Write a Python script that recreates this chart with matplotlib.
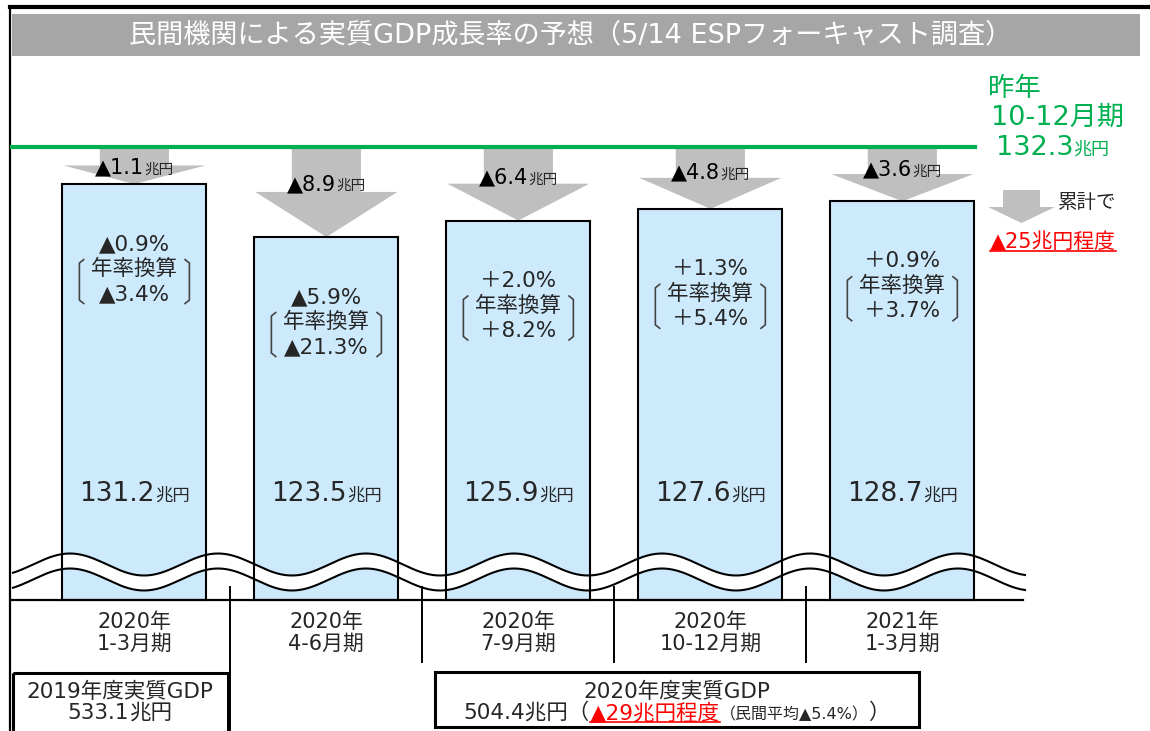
import numpy as np
import matplotlib.pyplot as plt
from matplotlib.patches import Rectangle, Polygon
from matplotlib.path import Path
from matplotlib.patches import PathPatch
from matplotlib.transforms import Affine2D, blended_transform_factory, IdentityTransform

plt.rcParams['font.family'] = ['DejaVu Sans', 'Noto Sans CJK JP']

# データ（兆円）
period_year = ['2020年', '2020年', '2020年', '2020年', '2021年']
period_q = ['1-3月期', '4-6月期', '7-9月期', '10-12月期', '1-3月期']
gdp = [131.2, 123.5, 125.9, 127.6, 128.7]
drop_lbl = ['▲1.1', '▲8.9', '▲6.4', '▲4.8', '▲3.6']
qoq = ['▲0.9%', '▲5.9%', '＋2.0%', '＋1.3%', '＋0.9%']
annual = ['▲3.4%', '▲21.3%', '＋8.2%', '＋5.4%', '＋3.7%']
prev_q = 132.3
prev_lbl = ['昨年', '10-12月期']
fy_lbl = ['2019年度実質GDP', '2020年度実質GDP']
fy_gdp = ['533.1', '504.4']
fy_drop = '▲29兆円程度'
fy_private = '（民間平均▲5.4%）'
cum_drop = '▲25兆円程度'
title = '民間機関による実質GDP成長率の予想（5/14 ESPフォーキャスト調査）'

GREEN = '#00b050'
RED = '#ff0000'
GRAY = '#bfbfbf'
BLUE = '#cdeafd'
TXT = '#262626'

W, H = 1150, 731
fig = plt.figure(figsize=(W / 100, H / 100), dpi=100)
ax = fig.add_axes([0, 0, 1, 1])
ax.set_xlim(-0.70, 5.29)
ax.set_ylim(51.7, 157.95)
ax.axis('off')

# ピクセル座標（左上が原点）
pix = Affine2D().scale(1 / W, -1 / H).translate(0, 1) + fig.transFigure
pxy = blended_transform_factory(pix, ax.transData)
rend = fig.canvas.get_renderer()


def to_px(x, y):
    return pix.inverted().transform(ax.transData.transform((x, y)))


def parts(x, y, items, ha='center', underline=()):
    objs = []
    for s, size, color in items:
        objs.append(ax.text(x, y, s, fontsize=size, color=color, transform=pix,
                            ha='left', va='baseline', clip_on=False, zorder=6))
    widths = [t.get_window_extent(rend).width for t in objs]
    off = -sum(widths) / 2 if ha == 'center' else 0
    x0, base = pix.transform((x, y))
    for k, (t, w) in enumerate(zip(objs, widths)):
        t.set_transform(pix + Affine2D().translate(off, 0))
        if k in underline:
            ax.plot([x0 + off, x0 + off + w], [base - 3, base - 3], color=t.get_color(),
                    lw=1.2, transform=IdentityTransform(), zorder=6)
        off += w
    return objs


n = len(gdp)
xs = np.arange(n)
line_gap = 4.3
y_line = prev_q + line_gap
base_y = ax.transData.inverted().transform(pix.transform((0, 600)))[1]

# 枠・タイトル
ax.plot([10, 1150], [7, 7], color='black', lw=3, transform=pix, clip_on=False)
ax.plot([10, 10], [7, 731], color='black', lw=1.6, transform=pix, clip_on=False)
ax.add_patch(Rectangle((12, 14), 1128, 42, fc='#a6a6a6', ec='none', transform=pix))
ax.text(571, 35, title, color='white', fontsize=19.5, ha='center', va='center', transform=pix)

# 棒
ax.bar(xs, np.array(gdp) - base_y, bottom=base_y, width=0.75, color=BLUE, zorder=1)
ax.bar(xs, np.array(gdp) - base_y, bottom=base_y, width=0.75, fill=False,
       edgecolor='black', lw=1.5, zorder=4)

# 昨年10-12月期ライン
ax.plot([12, 975], [y_line, y_line], color=GREEN, lw=3, transform=pxy, zorder=3)
line_px = to_px(0, y_line)[1]

# 減少矢印
for i in range(n):
    L = y_line - gdp[i]
    mid = gdp[i] + L / 2
    pts = [(i - 0.18, y_line), (i + 0.18, y_line), (i + 0.18, mid), (i + 0.37, mid),
           (i, gdp[i]), (i - 0.37, mid), (i - 0.18, mid)]
    ax.add_patch(Polygon(pts, closed=True, fc=GRAY, ec='none', zorder=2))
    cx, top = to_px(i, gdp[i])
    lab_y = line_px + max(20, 0.4 * (top - line_px))
    parts(cx, lab_y + 7, [(drop_lbl[i], 15, 'black'), ('兆円', 10.5, TXT)])

    # 前期比・年率換算
    ax.text(cx, top + 60, qoq[i], fontsize=15.5, color=TXT, ha='center', va='center',
            transform=pix, zorder=6)
    ax.text(cx, top + 85, '年率換算', fontsize=15.5, color=TXT, ha='center', va='center',
            transform=pix, zorder=6)
    ax.text(cx, top + 110, annual[i], fontsize=15.5, color=TXT, ha='center', va='center',
            transform=pix, zorder=6)
    b0, b1 = top + 75, top + 120
    for s in (-1, 1):
        bx = cx + s * 55
        verts = [(bx - s * 5, b0), (bx, b0 + 4), (bx, b1 - 4), (bx - s * 5, b1)]
        ax.add_patch(PathPatch(Path(verts), fill=False, ec='#444444', lw=1.2,
                               transform=pix, zorder=6))

    # 実額
    parts(cx, 501, [(f'{gdp[i]:.1f}', 19, TXT), ('兆円', 12.5, TXT)])

    # 期間ラベル
    ax.text(cx, 622, period_year[i], fontsize=15, color=TXT, ha='center', va='center',
            transform=pix)
    ax.text(cx, 644, period_q[i], fontsize=15, color=TXT, ha='center', va='center',
            transform=pix)

# 波線（省略記号）
wx = np.linspace(13, 1025, 500)
wu = 564.5 - 11 * np.cos(2 * np.pi * (wx - 70) / 148)
wl = wu + 15
band = np.vstack([np.column_stack([wx, wu]), np.column_stack([wx[::-1], wl[::-1]])])
ax.add_patch(Polygon(band, closed=True, fc='white', ec='none', transform=pix, zorder=3))
ax.plot(wx, wu, color='black', lw=1.5, transform=pix, zorder=5)
ax.plot(wx, wl, color='black', lw=1.5, transform=pix, zorder=5)

# 下部の線
ax.plot([12, 1023], [600, 600], color='black', lw=1.6, transform=pix, zorder=5)
for i in range(n - 1):
    sx = to_px(i + 0.5, 0)[0]
    ax.plot([sx, sx], [587, 731 if i == 0 else 662], color='black', lw=1.4,
            transform=pix, zorder=5, clip_on=False)

# 年度ボックス
ax.add_patch(Rectangle((13, 673), 215, 64, fill=False, ec='black', lw=2.2, transform=pix,
                       clip_on=False))
ax.text(120, 692, fy_lbl[0], fontsize=15.5, color=TXT, ha='center', va='center', transform=pix)
parts(120, 719, [(fy_gdp[0], 15.5, TXT), ('兆円', 15.5, TXT)])

ax.add_patch(Rectangle((435, 672), 484, 55, fill=False, ec='black', lw=2.2, transform=pix))
ax.text(677, 692, fy_lbl[1], fontsize=15.5, color=TXT, ha='center', va='center', transform=pix)
parts(677, 719, [(fy_gdp[1] + '兆円（', 15.5, TXT), (fy_drop, 15.5, RED),
                 (fy_private, 11.5, TXT), ('）', 15.5, TXT)], underline=(1,))

# 右側の注記
ax.text(988, 89, prev_lbl[0], fontsize=19, color=GREEN, ha='left', va='center', transform=pix)
ax.text(991, 118, prev_lbl[1], fontsize=19.5, color=GREEN, ha='left', va='center', transform=pix)
parts(996, 155, [(f'{prev_q:.1f}', 19.5, GREEN), ('兆円', 13, GREEN)], ha='left')

ax.add_patch(Polygon([(1003, 190), (1040, 190), (1040, 207), (1055, 207), (1021.5, 223),
                      (988, 207), (1003, 207)], closed=True, fc=GRAY, ec='none', transform=pix))
ax.text(1058, 203, '累計で', fontsize=14, color=TXT, ha='left', va='center', transform=pix)
parts(990, 248, [(cum_drop, 15, RED)], ha='left', underline=(0,))

fig.savefig('out.png', dpi=100)
